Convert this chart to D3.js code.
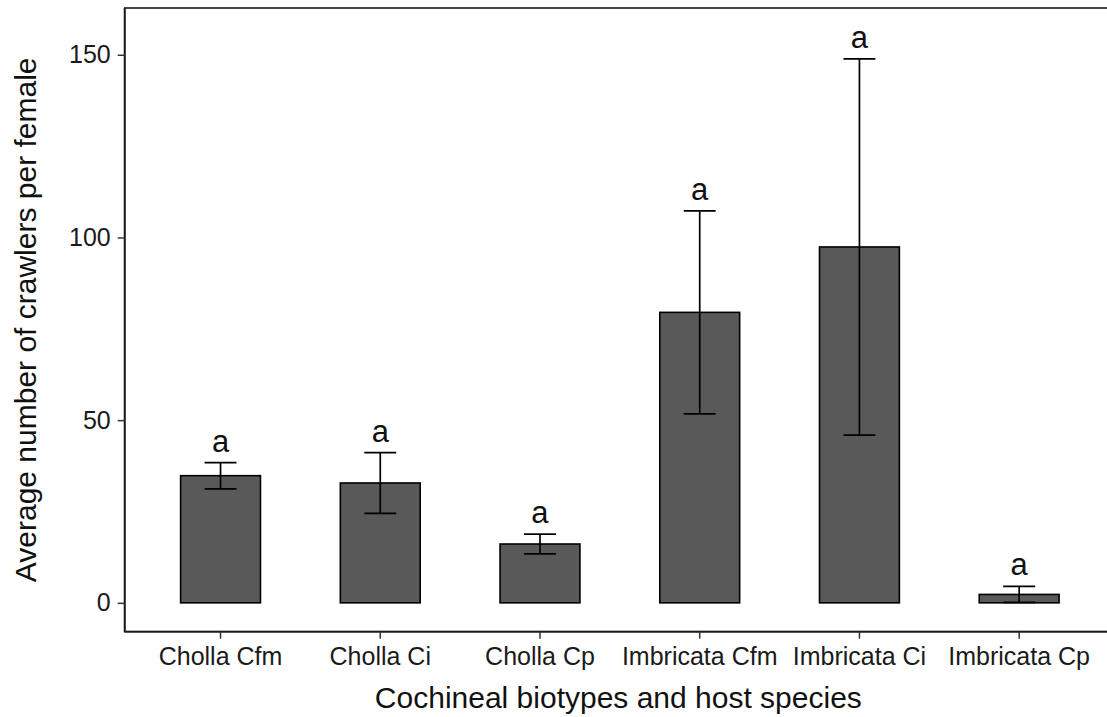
<!DOCTYPE html>
<html>
<head>
<meta charset="utf-8">
<script src="https://cdn.jsdelivr.net/npm/d3@7"></script>
<style>
  html, body { margin: 0; padding: 0; background: #fff; }
  svg { display: block; }
  text { font-family: Arial, "Liberation Sans", sans-serif; }
</style>
</head>
<body>
<svg id="chart" width="1107" height="717"></svg>
<script>
// Crawler counts per female, by cochineal biotype and host species
const categories = ["Cholla Cfm", "Cholla Ci", "Cholla Cp", "Imbricata Cfm", "Imbricata Ci", "Imbricata Cp"];
const meanCrawlers = [34.8, 32.8, 16.1, 79.5, 97.4, 2.3];
const seCrawlers = [3.6, 8.3, 2.7, 27.8, 51.5, 2.2];
const groupLetters = ["a", "a", "a", "a", "a", "a"];
const yTicks = [0, 50, 100, 150];

const rows = categories.map((c, i) => ({
  cat: c, mean: meanCrawlers[i], se: seCrawlers[i], letter: groupLetters[i]
}));

const svg = d3.select("#chart");
const panel = { left: 124.7, right: 1115, top: 8, bottom: 631.7 };

const x = d3.scaleBand()
  .domain(categories)
  .range([panel.left, panel.right])
  .paddingInner(0.5)
  .paddingOuter(0.35);

const y = d3.scaleLinear()
  .domain([-7.9, 162.8])
  .range([panel.bottom, panel.top]);

const capHalf = x.step() * 0.1;

// panel outline (top edge visible, right edge falls outside the canvas)
svg.append("rect")
  .attr("x", panel.left).attr("y", panel.top)
  .attr("width", panel.right - panel.left)
  .attr("height", panel.bottom - panel.top)
  .attr("fill", "none").attr("stroke", "#1a1a1a").attr("stroke-width", 1.6);

// bars
svg.append("g").selectAll("rect")
  .data(rows).join("rect")
  .attr("x", d => x(d.cat))
  .attr("width", x.bandwidth())
  .attr("y", d => y(d.mean))
  .attr("height", d => y(0) - y(d.mean))
  .attr("fill", "#595959")
  .attr("stroke", "#000")
  .attr("stroke-width", 1.6);

// error bars (mean ± SE)
const eb = svg.append("g").attr("stroke", "#000").attr("stroke-width", 1.7);
rows.forEach(d => {
  const cx = x(d.cat) + x.bandwidth() / 2;
  const hi = y(d.mean + d.se), lo = y(d.mean - d.se);
  eb.append("line").attr("x1", cx).attr("x2", cx).attr("y1", hi).attr("y2", lo);
  eb.append("line").attr("x1", cx - capHalf).attr("x2", cx + capHalf).attr("y1", hi).attr("y2", hi);
  eb.append("line").attr("x1", cx - capHalf).attr("x2", cx + capHalf).attr("y1", lo).attr("y2", lo);
});

// significance letters above the error bars
svg.append("g").selectAll("text")
  .data(rows).join("text")
  .attr("x", d => x(d.cat) + x.bandwidth() / 2)
  .attr("y", d => y(d.mean + d.se) - 11)
  .attr("text-anchor", "middle")
  .attr("font-size", 31)
  .attr("fill", "#111")
  .text(d => d.letter);

// y axis
const yAxis = svg.append("g")
  .attr("transform", `translate(${panel.left},0)`)
  .call(d3.axisLeft(y).tickValues(yTicks).tickSize(7).tickPadding(7).tickFormat(d3.format("d")));
yAxis.select(".domain").attr("stroke", "#1a1a1a").attr("stroke-width", 1.8)
  .attr("d", `M0,${panel.top}V${panel.bottom}`);
yAxis.selectAll(".tick line").attr("stroke", "#333").attr("stroke-width", 1.5);
yAxis.selectAll(".tick text").attr("font-size", 25).attr("fill", "#1a1a1a")
  .attr("font-family", "Arial, 'Liberation Sans', sans-serif");

// x axis
const xAxis = svg.append("g")
  .attr("transform", `translate(0,${panel.bottom})`)
  .call(d3.axisBottom(x).tickSize(7).tickPadding(9));
xAxis.select(".domain").attr("stroke", "#1a1a1a").attr("stroke-width", 1.8)
  .attr("d", `M${panel.left},0H${panel.right}`);
xAxis.selectAll(".tick line").attr("stroke", "#333").attr("stroke-width", 1.5);
xAxis.selectAll(".tick text").attr("font-size", 25).attr("fill", "#1a1a1a")
  .attr("font-family", "Arial, 'Liberation Sans', sans-serif");

// axis titles
svg.append("text")
  .attr("x", (panel.left + panel.right) / 2 - 1.5)
  .attr("y", 708)
  .attr("text-anchor", "middle")
  .attr("font-size", 30)
  .attr("fill", "#111")
  .text("Cochineal biotypes and host species");

svg.append("text")
  .attr("transform", `translate(35.5,${(panel.top + panel.bottom) / 2}) rotate(-90)`)
  .attr("text-anchor", "middle")
  .attr("font-size", 30)
  .attr("fill", "#111")
  .text("Average number of crawlers per female");
</script>
</body>
</html>
